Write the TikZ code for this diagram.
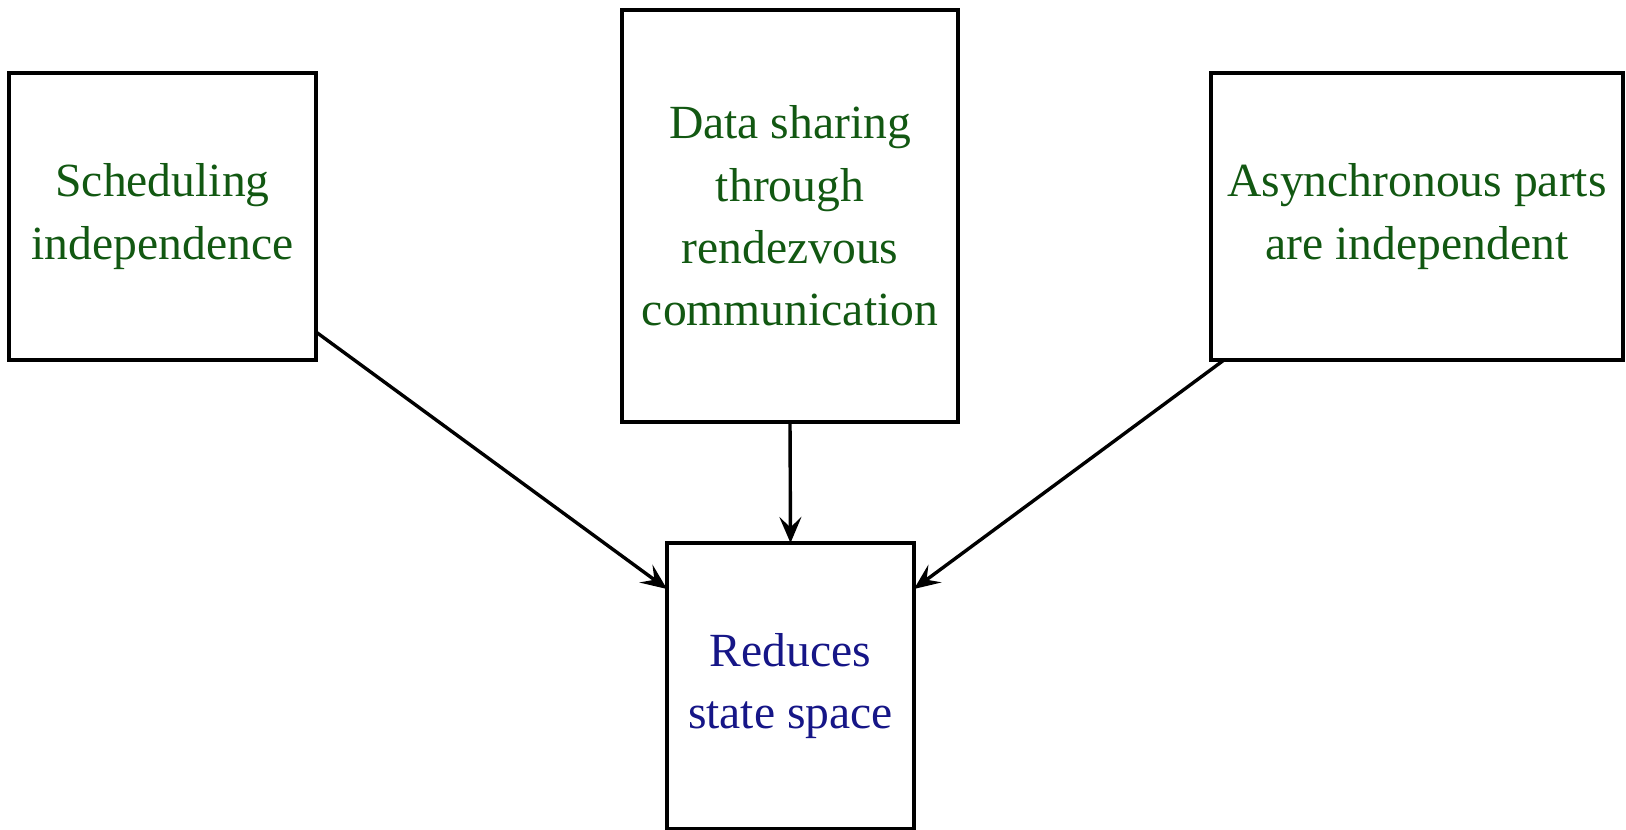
\documentclass[tikz,border=0pt]{standalone}
\usepackage{fontspec}
\setmainfont{Liberation Serif}
\usetikzlibrary{arrows.meta}
\definecolor{txtgreen}{RGB}{18,88,18}
\definecolor{txtblue}{RGB}{22,22,135}
\tikzset{
  box/.style={draw=black, line width=0.9pt, rectangle, inner sep=0pt, outer sep=0pt, align=center,
    font=\fontsize{11.9}{15.6}\selectfont},
  arr/.style={line width=0.85pt, -{Stealth[length=6.5pt,width=5.5pt,inset=2.6pt]}}
}
\begin{document}
\begin{tikzpicture}[x=0.25pt,y=-0.25pt]
\useasboundingbox (0,0) rectangle (1626,830);
\node[box, text=txtgreen, minimum width=76.75pt, minimum height=71.75pt] (b1) at (162.5,216.5) {Scheduling\\independence};
\node[box, text=txtgreen, minimum width=84pt, minimum height=103pt] (b2) at (790,216) {Data sharing\\through\\rendezvous\\communication};
\node[box, text=txtgreen, minimum width=103pt, minimum height=71.75pt] (b3) at (1417,216.5) {Asynchronous parts\\are independent};
\node[box, text=txtblue, minimum width=61.75pt, minimum height=71.5pt] (b4) at (790.5,686) {Reduces\\state space};
\draw[arr] ([yshift=7pt]b1.south east) -- ([yshift=-11.5pt]b4.north west);
\draw[arr] (b2.south) -- (b4.north);
\draw[arr] ([xshift=3.25pt]b3.south west) -- ([yshift=-11.5pt]b4.north east);
\end{tikzpicture}
\end{document}
